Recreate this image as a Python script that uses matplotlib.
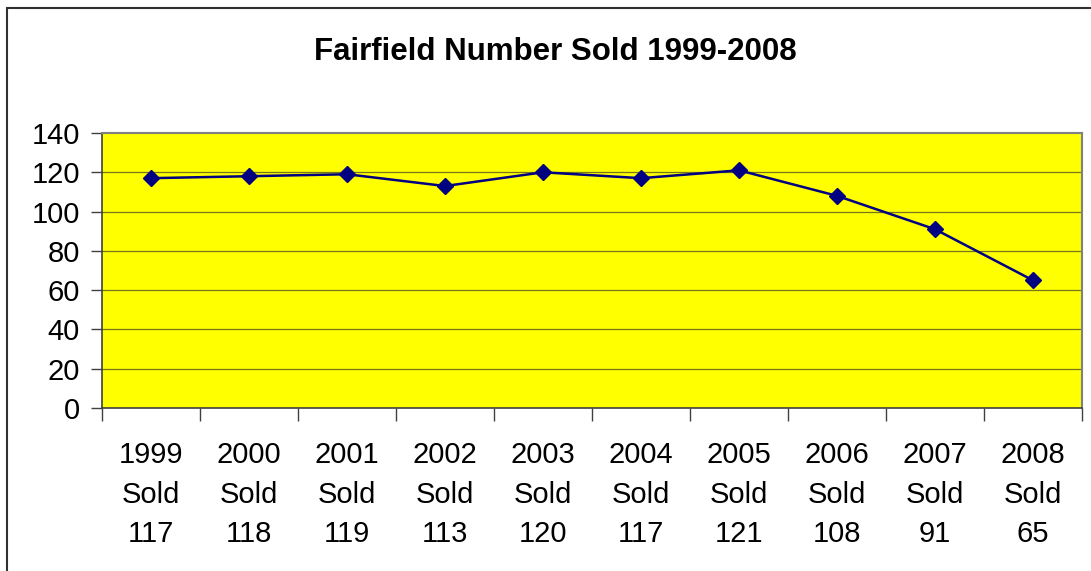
import matplotlib
matplotlib.use('Agg')
import matplotlib.pyplot as plt
from matplotlib.patches import Rectangle

plt.rcParams['font.family'] = ['Liberation Sans', 'DejaVu Sans']

# data
years = ['1999', '2000', '2001', '2002', '2003', '2004', '2005', '2006', '2007', '2008']
sold = [117, 118, 119, 113, 120, 117, 121, 108, 91, 65]
y_ticks = [0, 20, 40, 60, 80, 100, 120, 140]

fig = plt.figure(figsize=(10.91, 5.71), dpi=100)
ax = fig.add_axes([102 / 1091, 1 - 408 / 571, 980 / 1091, 275 / 571])
ax.set_facecolor('#ffff00')

x = [i + 0.5 for i in range(len(sold))]
ax.plot(x, sold, color='#000080', lw=1.8, marker='D', ms=8, mfc='#000080', mec='#000080')

ax.set_xlim(0, len(sold))
ax.set_ylim(0, 140)
ax.set_yticks(y_ticks)
ax.set_yticklabels([str(v) for v in y_ticks], fontsize=21)
for v in y_ticks[1:-1]:
    ax.axhline(v, color='#77771a', lw=0.9, zorder=1)

# grenzen tussen categorieën als major ticks, labels als minor ticks
ax.set_xticks(range(len(sold) + 1))
ax.set_xticklabels([])
ax.set_xticks(x, minor=True)
ax.set_xticklabels([f'{y}\nSold\n{s}' for y, s in zip(years, sold)], minor=True,
                   fontsize=21, linespacing=1.52)
ax.tick_params(axis='x', which='major', direction='out', length=9, width=1, color='#404040')
ax.tick_params(axis='x', which='minor', length=0, pad=24)
ax.tick_params(axis='y', direction='out', length=8, width=1, color='#404040', pad=8)

for side in ['top', 'right']:
    ax.spines[side].set_color('#808080')
    ax.spines[side].set_linewidth(1.5)
for side in ['left', 'bottom']:
    ax.spines[side].set_color('#404040')
    ax.spines[side].set_linewidth(1.2)

fig.text(0.509, 1 - 52 / 571, 'Fairfield Number Sold 1999-2008', ha='center', va='center',
         fontsize=22.5, fontweight='bold')

# kader rond de figuur
fig.patches.append(Rectangle((7 / 1091, -0.1), 1.2, 1 - 8 / 571 + 0.1, transform=fig.transFigure,
                             fill=False, ec='#303030', lw=1.5))

fig.savefig('out.png', dpi=100)
